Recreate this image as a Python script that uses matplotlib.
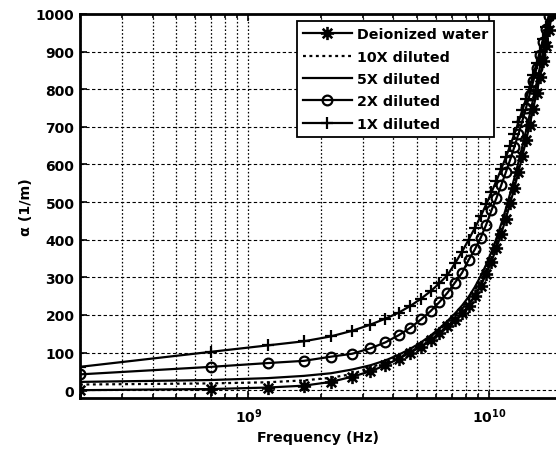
import numpy as np
import matplotlib
matplotlib.use("Agg")
import matplotlib.pyplot as plt
from matplotlib.path import Path
from matplotlib.ticker import FixedLocator, NullFormatter, LogLocator

# ---- data (frequency in GHz, alpha in 1/m) ----
freq_ghz = [0.2, 0.7, 1.2, 1.7, 2.2, 2.7, 3.2, 3.7, 4.2, 4.7, 5.2, 5.7, 6.2, 6.7,
            7.2, 7.7, 8.2, 8.7, 9.2, 9.7, 10.2, 10.7, 11.2, 11.7, 12.2, 12.7, 13.2,
            13.7, 14.2, 14.7, 15.2, 15.7, 16.2, 16.7, 17.2, 17.7, 18.2]

alpha_di = [0, 3, 7, 12, 22, 36, 50, 66, 84, 100, 116, 133, 151, 170,
            186, 204, 225, 250, 278, 308, 342, 378, 416, 456, 497, 538, 580,
            622, 664, 706, 748, 790, 832, 874, 916, 958, 1000]

alpha_10x = [15, 18, 21, 26, 33, 43, 60, 74, 90, 107, 124, 142, 161, 180,
             199, 218, 240, 265, 292, 322, 356, 392, 430, 470, 511, 552, 594,
             636, 678, 720, 762, 804, 846, 888, 930, 972, 1014]

alpha_5x = [22, 27, 32, 38, 45, 55, 66, 79, 94, 110, 127, 145, 164, 184,
            204, 225, 248, 274, 303, 334, 368, 404, 442, 482, 523, 564, 606,
            648, 690, 732, 774, 816, 858, 900, 942, 984, 1026]

alpha_2x = [42, 62, 72, 78, 89, 97, 111, 127, 146, 166, 188, 210, 234, 259,
            286, 312, 346, 374, 405, 440, 478, 511, 545, 579, 613, 647, 681,
            716, 751, 786, 821, 856, 891, 926, 961, 996, 1031]

alpha_1x = [62, 102, 119, 130, 143, 158, 174, 190, 206, 224, 243, 263, 284, 306,
            337, 368, 400, 431, 462, 494, 526, 557, 588, 619, 650, 681, 712,
            744, 775, 806, 838, 869, 900, 933, 966, 1000, 1033]

labels = ["Deionized water", "10X diluted", "5X diluted", "2X diluted", "1X diluted"]
y_ticks = [0, 100, 200, 300, 400, 500, 600, 700, 800, 900, 1000]

freq_hz = np.array(freq_ghz) * 1e9

plt.rcParams['font.family'] = ['DejaVu Sans']
plt.rcParams['font.weight'] = 'bold'
plt.rcParams['mathtext.fontset'] = 'dejavusans'
plt.rcParams['mathtext.default'] = 'bf'

W, H = 556, 456
fig = plt.figure(figsize=(W / 100, H / 100), dpi=100)
ax = fig.add_axes([80 / W, 1 - 398.7 / H, 476 / W, (398.7 - 15) / H])

# MATLAB-like asterisk marker
ast = Path([(-1, 0), (1, 0), (0, -1), (0, 1),
            (-0.72, -0.72), (0.72, 0.72), (-0.72, 0.72), (0.72, -0.72)],
           [Path.MOVETO, Path.LINETO] * 4)

lw = 1.6
ax.plot(freq_hz, alpha_di, color='k', lw=lw, marker=ast, ms=9.5, mew=1.9,
        label=labels[0])
ax.plot(freq_hz, alpha_10x, color='k', lw=lw, ls=(0, (1.3, 1.6)), label=labels[1])
ax.plot(freq_hz, alpha_5x, color='k', lw=lw, ls='-', label=labels[2])
ax.plot(freq_hz, alpha_2x, color='k', lw=lw, marker='o', ms=7, mew=1.6,
        mfc='none', label=labels[3])
ax.plot(freq_hz, alpha_1x, color='k', lw=lw, marker='+', ms=8, mew=1.6,
        label=labels[4])

ax.set_xscale('log')
ax.set_xlim(2e8, 1.89e10)
ax.set_ylim(-20, 1000)
ax.set_yticks(y_ticks)
ax.xaxis.set_major_locator(FixedLocator([1e9, 1e10]))
ax.set_xticklabels([r'$\mathbf{10^{9}}$', r'$\mathbf{10^{10}}$'])
ax.xaxis.set_minor_locator(LogLocator(base=10, subs=np.arange(2, 10)))
ax.xaxis.set_minor_formatter(NullFormatter())

ax.grid(True, which='both', axis='x', color='k', ls=(0, (1.3, 1.7)), lw=0.9)
ax.grid(True, which='major', axis='y', color='k', ls=(0, (3, 2.2)), lw=0.8)

ax.tick_params(which='both', direction='in', top=True, right=False,
               labelsize=10, width=1.2, color='k')
ax.tick_params(which='major', length=5)
ax.tick_params(which='minor', length=3)
ax.tick_params(axis='y', pad=4)
ax.tick_params(axis='x', pad=6)

for s in ['left', 'bottom', 'top']:
    ax.spines[s].set_linewidth(2.0)
ax.spines['right'].set_visible(False)

ax.set_xlabel('Frequency (Hz)', fontsize=10.3, fontweight='bold', labelpad=4)
ax.set_ylabel('α (1/m)', fontsize=10.3, fontweight='bold', labelpad=2)

leg = ax.legend(loc='upper left', bbox_to_anchor=(0.455, 0.982), borderaxespad=0,
                fancybox=False, framealpha=1, edgecolor='k', fontsize=10.3,
                handlelength=3.4, labelspacing=0.58, handletextpad=0.35,
                borderpad=0.45)
leg.get_frame().set_linewidth(1.3)
for t in leg.get_texts():
    t.set_fontweight('bold')

fig.savefig('out.png', dpi=100)
